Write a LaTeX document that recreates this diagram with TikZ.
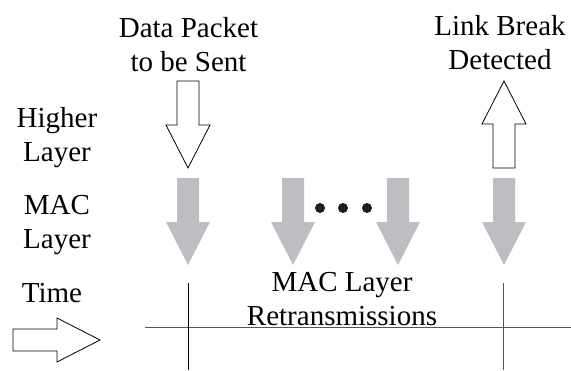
\documentclass[tikz,border=0pt]{standalone}
\usepackage{fontspec}
\setmainfont{Liberation Serif}
\definecolor{arrowgray}{RGB}{189,190,193}
\definecolor{axisgray}{RGB}{85,85,85}
\definecolor{dotblack}{RGB}{30,30,30}
\tikzset{
  blockarrow/.pic={
    \path[pic actions] (0,-11) -- (44,-11) -- (44,-22) -- (87,0) -- (44,22) -- (44,11) -- (0,11) -- cycle;
  },
  openarrow/.style={draw=black, fill=white, line width=0.8pt, line join=miter},
  macarrow/.style={fill=arrowgray},
  label/.style={inner sep=0pt, anchor=north, align=center,
    font=\fontsize{29}{34}\selectfont},
}
\begin{document}
\begin{tikzpicture}[x=1pt, y=-1pt]
  \useasboundingbox (0,0) rectangle (571,370);

  % layer and event labels
  \node[label] (packet) at (188.5,17) {Data Packet\\to be Sent};
  \node[label] (linkbreak) at (500,15) {Link Break\\Detected};
  \node[label] (higher) at (57,107) {Higher\\Layer};
  \node[label] (mac) at (57,195) {MAC\\Layer};
  \node[label] (time) at (52,283) {Time};
  \node[label] (retx) at (342,272) {MAC Layer\\Retransmissions};

  % higher-layer events
  \pic[openarrow, rotate=-90] at (188,81) {blockarrow};
  \pic[openarrow, rotate=90] at (504,168) {blockarrow};

  % MAC-layer transmissions
  \foreach \x in {188,293,398,504}
    \pic[macarrow, rotate=-90] at (\x,178) {blockarrow};
  \foreach \x in {320,343,367}
    \fill[dotblack] (\x,208) circle (5);

  % time axis
  \pic[openarrow] at (13,340) {blockarrow};
  \draw[axisgray, line width=1pt] (145,327) -- (571,327);
  \draw[black, line width=1pt] (188,283) -- (188,370);
  \draw[axisgray, line width=1pt] (503,283) -- (503,370);
\end{tikzpicture}
\end{document}
